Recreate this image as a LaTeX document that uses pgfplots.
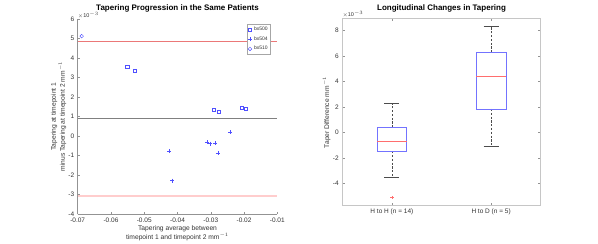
\documentclass[border=0pt]{standalone}
\usepackage{fontspec}
\setmainfont{Liberation Sans}
\usepackage{pgfplots}
\pgfplotsset{compat=1.18}
\usepgfplotslibrary{statistics}

\definecolor{mblue}{RGB}{80,80,255}
\definecolor{lred}{RGB}{235,120,120}
\definecolor{lpink}{RGB}{255,205,205}
\definecolor{medred}{RGB}{255,110,110}
\newcommand{\tickfont}{\fontsize{6.5}{7}\selectfont}
\newcommand{\labfont}{\fontsize{6.7}{9}\selectfont}
\newcommand{\titfont}{\fontsize{8}{9}\selectfont\bfseries}

\begin{document}
\begin{tikzpicture}
% ---------------- left panel ----------------
\begin{axis}[
  at={(77.7pt,30pt)}, anchor=south west,
  scale only axis, width=199.6pt, height=195pt,
  xmin=-0.07, xmax=-0.01, ymin=-4, ymax=6,
  scaled x ticks=false, scaled y ticks=false,
  axis lines=left, axis line style={-, gray!85, line width=0.5pt},
  xtick={-0.07,-0.06,-0.05,-0.04,-0.03,-0.02,-0.01},
  xticklabels={-0.07,-0.06,-0.05,-0.04,-0.03,-0.02,-0.01},
  ytick={-4,-3,-2,-1,0,1,2,3,4,5,6},
  yticklabels={-4,-3,-2,-1,0,1,2,3,4,5,6},
  tick align=inside, major tick length=2.5pt,
  tick style={gray!85, line width=0.5pt},
  ticklabel style={font=\tickfont, text=black!80},
  xlabel={Tapering average between\\timepoint 1 and timepoint 2 mm$^{-1}$},
  xlabel style={font=\labfont, align=center, text=black!80,
    at={(axis description cs:0.5,-0.1)}, anchor=center},
  ylabel={Tapering at timepoint 1\\minus Tapering at timepoint 2 mm$^{-1}$},
  ylabel style={font=\labfont, align=center, text=black!80,
    at={(axis description cs:-0.096,0.5)}, anchor=center},
  title={Tapering Progression in the Same Patients},
  title style={font=\titfont, at={(axis description cs:0.5,1.0128)}, anchor=base},
  legend style={draw=gray!70, font=\fontsize{5}{5.5}\selectfont, text=black!80,
    at={(axis description cs:0.968,0.974)}, anchor=north east,
    inner sep=1pt, row sep=0.4pt, line width=0.5pt},
  legend cell align=left,
  legend image code/.code={\draw[mark repeat=2,mark phase=2] plot coordinates {(0cm,0cm)(0.17cm,0cm)(0.34cm,0cm)};},
  clip=false,
]
\addplot[only marks, mark=square, mark size=1.6pt, mblue, line width=0.45pt]
  coordinates {(-0.0551,3.55) (-0.0529,3.35) (-0.0290,1.33) (-0.0275,1.26) (-0.0206,1.47) (-0.0194,1.38)};
\addlegendentry{bx500}
\addplot[only marks, mark=+, mark size=2pt, mblue, line width=0.45pt]
  coordinates {(-0.0425,-0.78) (-0.0416,-2.29) (-0.0312,-0.32) (-0.0302,-0.39) (-0.0287,-0.37) (-0.0279,-0.86) (-0.0241,0.19)};
\addlegendentry{bx504}
\addplot[only marks, mark=o, mark size=1.8pt, mblue, line width=0.45pt]
  coordinates {(-0.0688,5.12)};
\addlegendentry{bx510}
\addplot[forget plot, lred, line width=0.6pt] coordinates {(-0.07,4.86) (-0.01,4.86)};
\addplot[forget plot, gray, line width=0.6pt] coordinates {(-0.07,0.91) (-0.01,0.91)};
\addplot[forget plot, lpink, line width=1.3pt] coordinates {(-0.07,-3.07) (-0.01,-3.07)};
\node[font=\fontsize{5.5}{6}\selectfont, text=black!80, anchor=base west, inner sep=0pt]
  at (axis description cs:0,1.01) {$\times$10$^{-3}$};
\end{axis}

% ---------------- right panel ----------------
\begin{axis}[
  at={(342.3pt,38.3pt)}, anchor=south west,
  scale only axis, width=198.4pt, height=186.7pt,
  xmin=0.5, xmax=2.5, ymin=-5.73, ymax=8.92,
  scaled x ticks=false, scaled y ticks=false,
  axis line style={gray!45, line width=1pt},
  xtick={1,2}, xticklabels={H to H (n = 14), H to D (n = 5)},
  ytick={-4,-2,0,2,4,6,8}, yticklabels={-4,-2,0,2,4,6,8},
  tick align=inside, tick pos=both, major tick length=2.5pt,
  tick style={gray!85, line width=0.5pt},
  ticklabel style={font=\tickfont, text=black!80},
  ylabel={Taper Difference mm$^{-1}$},
  ylabel style={font=\labfont, text=black!80,
    at={(axis description cs:-0.079,0.5)}, anchor=center},
  title={Longitudinal Changes in Tapering},
  title style={font=\titfont, at={(axis description cs:0.5,1.0134)}, anchor=base},
  boxplot/draw direction=y,
  boxplot/every box/.style={draw=blue!55, line width=0.6pt},
  boxplot/every median/.style={draw=medred, line width=0.6pt},
  boxplot/every whisker/.style={draw=black!70, line width=0.5pt, dash pattern=on 2.2pt off 1.6pt},
  clip=false,
]
\addplot[boxplot prepared={draw position=1, median=-0.68, upper quartile=0.42,
  lower quartile=-1.46, upper whisker=2.30, lower whisker=-3.50},
  boxplot/box extend=0.3, boxplot/whisker extend=0] coordinates {};
\addplot[boxplot prepared={draw position=2, median=4.42, upper quartile=6.30,
  lower quartile=1.86, upper whisker=8.31, lower whisker=-1.07},
  boxplot/box extend=0.3, boxplot/whisker extend=0] coordinates {};
% whisker caps
\addplot[black!70, line width=0.6pt] coordinates {(0.925,2.30) (1.075,2.30)};
\addplot[black!70, line width=0.6pt] coordinates {(0.925,-3.50) (1.075,-3.50)};
\addplot[black!70, line width=0.6pt] coordinates {(1.925,8.31) (2.075,8.31)};
\addplot[black!70, line width=0.6pt] coordinates {(1.925,-1.07) (2.075,-1.07)};
% outlier
\addplot[only marks, mark=+, mark size=1.8pt, medred, line width=0.5pt] coordinates {(1,-5.1)};
\node[font=\fontsize{5.5}{6}\selectfont, text=black!80, anchor=base west, inner sep=0pt]
  at (axis description cs:0,1.013) {$\times$10$^{-3}$};
\end{axis}
\pgfresetboundingbox
\path[use as bounding box] (0,0) rectangle (598pt,244pt);
\end{tikzpicture}
\end{document}
